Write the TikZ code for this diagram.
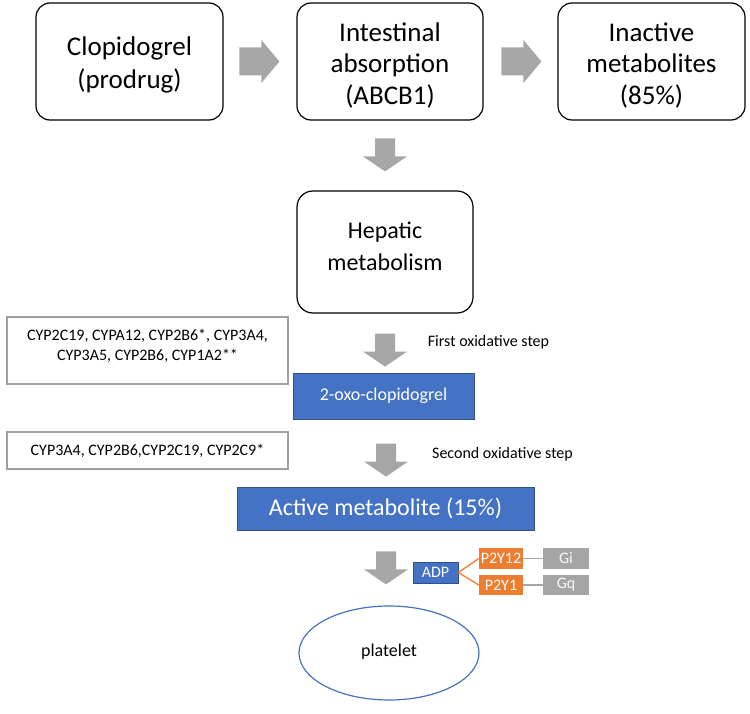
\documentclass[tikz,border=0pt]{standalone}
\usepackage{fontspec}
\setmainfont{Carlito}
\usetikzlibrary{calc,shapes.geometric}
\definecolor{arrgray}{RGB}{166,166,166}
\definecolor{mblue}{RGB}{68,114,196}
\definecolor{dblue}{RGB}{47,82,143}
\definecolor{morange}{RGB}{237,125,49}
\definecolor{mgray}{RGB}{165,165,165}
\definecolor{bgray}{RGB}{160,160,160}
\tikzset{
  downarr/.pic={\fill[arrgray] (0,0)--(22,-15)--(10,-15)--(10,-33)--(-10,-33)--(-10,-15)--(-22,-15)--cycle;},
  rightarr/.pic={\fill[arrgray] (0,0)--(-18,-21.5)--(-18,-14)--(-40,-14)--(-40,14)--(-18,14)--(-18,21.5)--cycle;},
  topbox/.style={draw=black, line width=1.2pt, rounded corners=14pt, minimum width=187pt, minimum height=117pt, align=center, inner sep=0pt, font=\fontsize{27}{32.5}\selectfont},
  hepbox/.style={draw=black, line width=1.2pt, rounded corners=16pt, minimum width=176pt, minimum height=122pt, align=center, inner sep=0pt, font=\fontsize{24}{32}\selectfont},
  cypbox/.style={draw=bgray, line width=1.1pt, minimum width=281pt, align=center, inner sep=0pt, font=\fontsize{16}{20}\selectfont},
  bluebox/.style={fill=mblue, draw=dblue, line width=0.8pt, text=white, inner sep=0pt},
  smallbox/.style={minimum width=45pt, minimum height=21pt, inner sep=0pt, text=white, font=\fontsize{16}{18}\selectfont},
  steplabel/.style={font=\fontsize{16}{19}\selectfont, inner sep=0pt},
}
\begin{document}
\begin{tikzpicture}[x=1pt,y=-1pt]
\useasboundingbox (0,0) rectangle (750,714);
% top row
\node[topbox] (c1) at (129.5,61.5) {\rule{0pt}{26pt}Clopidogrel\\(prodrug)};
\node[topbox, minimum width=186pt, font=\fontsize{27}{31.5}\selectfont] (c2) at (390,61.5) {\rule{0pt}{26pt}Intestinal\\absorption\\(ABCB1)};
\node[topbox, font=\fontsize{27}{31.5}\selectfont] (c3) at (651.5,61.5) {\rule{0pt}{26pt}Inactive\\metabolites\\(85\%)};
\pic at ($(c2.west)+(-17,0)$) {rightarr};
\pic at ($(c3.west)+(-16,0)$) {rightarr};
% hepatic
\node[hepbox] (hep) at (385,252) {Hepatic\\metabolism\rule[-12pt]{0pt}{0pt}};
\pic at ($(hep.north)+(0,-19)$) {downarr};
% first oxidative step
\node[cypbox, minimum height=67pt] (cypa) at (147.5,350.5) {CYP2C19, CYPA12, CYP2B6*, CYP3A4,\\CYP3A5, CYP2B6, CYP1A2**\rule[-12pt]{0pt}{0pt}};
\node[bluebox, minimum width=181pt, minimum height=46pt, font=\fontsize{18}{21}\selectfont] (oxo) at (383.5,396) {2-oxo-clopidogrel\rule[-4pt]{0pt}{0pt}};
\pic at ($(oxo.north)+(1.5,-6)$) {downarr};
\node[steplabel] (s1) at (488.5,342) {First oxidative step};
% second oxidative step
\node[cypbox, minimum height=37pt] (cypb) at (147.5,450.5) {CYP3A4, CYP2B6,CYP2C19, CYP2C9*};
\node[bluebox, minimum width=297pt, minimum height=43pt, font=\fontsize{24}{28}\selectfont] (act) at (385.5,508.5) {Active metabolite (15\%)};
\pic at ($(act.north)+(0.5,-10)$) {downarr};
\node[steplabel] (s2) at (502.5,454) {Second oxidative step};
% receptors
\node[smallbox, fill=mblue, draw=dblue, line width=0.6pt] (adp) at (435.5,572.5) {ADP};
\node[smallbox, fill=morange, minimum width=44pt] (p12) at (501,558.5) {P2Y12};
\node[smallbox, fill=morange, minimum width=44pt, minimum height=20pt] (p1) at (501,585) {P2Y1};
\node[smallbox, fill=mgray, minimum width=46pt, text=white!95!gray] (gi) at (566,558.5) {Gi};
\node[smallbox, fill=mgray, minimum width=46pt, minimum height=20pt, text=white!95!gray] (gq) at (566,585) {Gq};
\draw[morange, line width=1.3pt] (adp.east) -- (p12.west);
\draw[morange, line width=1.3pt] (adp.east) -- (p1.west);
\draw[mgray, line width=1.3pt] (p12.east) -- (gi.west);
\draw[mgray, line width=1.3pt] (p1.east) -- (gq.west);
% platelet
\node[ellipse, draw=mblue, line width=1.2pt, minimum width=180pt, minimum height=94pt, inner sep=0pt, font=\fontsize{18}{21}\selectfont] (plt) at (389,653) {platelet\rule[-6pt]{0pt}{0pt}};
\pic at ($(plt.north)+(-3,-21)$) {downarr};
\end{tikzpicture}
\end{document}
